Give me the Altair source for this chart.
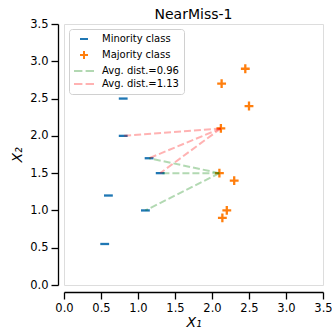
import altair as alt
import numpy as np
import pandas as pd

# Sample coordinates
minority_x = [1.1, 1.3, 1.15, 0.8, 0.8, 0.6, 0.55]
minority_y = [1.0, 1.5, 1.7, 2.5, 2.0, 1.2, 0.55]
majority_x = [2.1, 2.12, 2.13, 2.14, 2.2, 2.3, 2.5, 2.45]
majority_y = [1.5, 2.1, 2.7, 0.9, 1.0, 1.4, 2.4, 2.9]

# Majority sample index -> indices of its three nearest minority samples
neighbours = [(0, [0, 1, 2]), (1, [4, 2, 1])]
line_colors = ["#008000", "#ff0000"]          # drawn with alpha 0.3
line_legend_colors = ["#b2d8b2", "#ffb2b2"]   # same colours pre-blended on white

axis_ticks = [0.0, 0.5, 1.0, 1.5, 2.0, 2.5, 3.0, 3.5]

# Points table
points_df = pd.DataFrame({
    "x": minority_x + majority_x,
    "y": minority_y + majority_y,
    "label": ["Minority class"] * len(minority_x) + ["Majority class"] * len(majority_x),
})

# Segments from each selected majority sample to its nearest minority samples
rows = []
dist_labels = []
for maj, mins in neighbours:
    mx, my = majority_x[maj], majority_y[maj]
    d = np.mean([np.hypot(mx - minority_x[j], my - minority_y[j]) for j in mins])
    lab = f"Avg. dist.={d:.2f}"
    dist_labels.append(lab)
    for j in mins:
        seg = f"{maj}-{j}"
        rows.append({"seg": seg, "step": 0, "x": mx, "y": my, "label": lab})
        rows.append({"seg": seg, "step": 1, "x": minority_x[j], "y": minority_y[j], "label": lab})
lines_df = pd.DataFrame(rows)

labels = ["Minority class", "Majority class"] + dist_labels
dash_path = "M-2.5,0H-0.4M0.4,0H2.5"
shapes = ["M-1,0H1", "M-1,0H1M0,-1V1", dash_path, dash_path]
colors = ["#1f77b4", "#ff7f0e"] + line_legend_colors

font = "DejaVu Sans"
xs = alt.Scale(domain=[0, 3.5], nice=False, zero=False)
ys = alt.Scale(domain=[0, 3.5], nice=False, zero=False)


def make_axis(title, offset, title_padding):
    return alt.Axis(
        values=axis_ticks, format=".1f", title=title, titleFontStyle="italic",
        offset=offset, tickSize=7, labelPadding=3, grid=False,
        labelOverlap=False, labelBound=False,
        domainColor="black", tickColor="black", labelColor="black", titleColor="black",
        domainWidth=1.3, tickWidth=1.3, labelFontSize=11.5, titleFontSize=14,
        titleFontWeight="normal", labelFont=font, titleFont=font,
        titlePadding=title_padding, labelFlush=False,
    )


x_axis = make_axis("X₁", 7, 2)
y_axis = make_axis("X₂", 6, 5)

legend = alt.Legend(
    title=None, orient="none", legendX=5, legendY=5,
    labelFont=font, labelFontSize=10, labelColor="black",
    symbolSize=64, symbolStrokeWidth=2, padding=5, rowPadding=3,
    labelOffset=13, symbolOffset=5,
    fillColor="white", strokeColor="#d0d0d0", cornerRadius=3,
)

points = alt.Chart(points_df).mark_point(filled=False, strokeWidth=2.3, size=78, opacity=1).encode(
    x=alt.X("x:Q", scale=xs, axis=x_axis),
    y=alt.Y("y:Q", scale=ys, axis=y_axis),
    color=alt.Color("label:N", scale=alt.Scale(domain=labels, range=colors), legend=legend),
    shape=alt.Shape("label:N", scale=alt.Scale(domain=labels, range=shapes), legend=legend),
)

lines = alt.Chart(lines_df).mark_line(strokeWidth=2, strokeDash=[7, 3], opacity=0.3).encode(
    x=alt.X("x:Q", scale=xs, axis=x_axis),
    y=alt.Y("y:Q", scale=ys, axis=y_axis),
    detail="seg:N",
    order="step:O",
    stroke=alt.Stroke("label:N", scale=alt.Scale(domain=dist_labels, range=line_colors), legend=None),
)

chart = alt.layer(points, lines).properties(
    width=259, height=261,
    title=alt.TitleParams("NearMiss-1", font=font, fontSize=14, fontWeight="normal",
                          color="black", anchor="middle", offset=-4),
    autosize=alt.AutoSizeParams(type="none"),
    padding={"left": 64, "top": 24, "right": 9, "bottom": 51},
).configure_view(strokeWidth=0).configure(background="white")

chart.save("out.html", embed_options={"renderer": "svg", "actions": False})
